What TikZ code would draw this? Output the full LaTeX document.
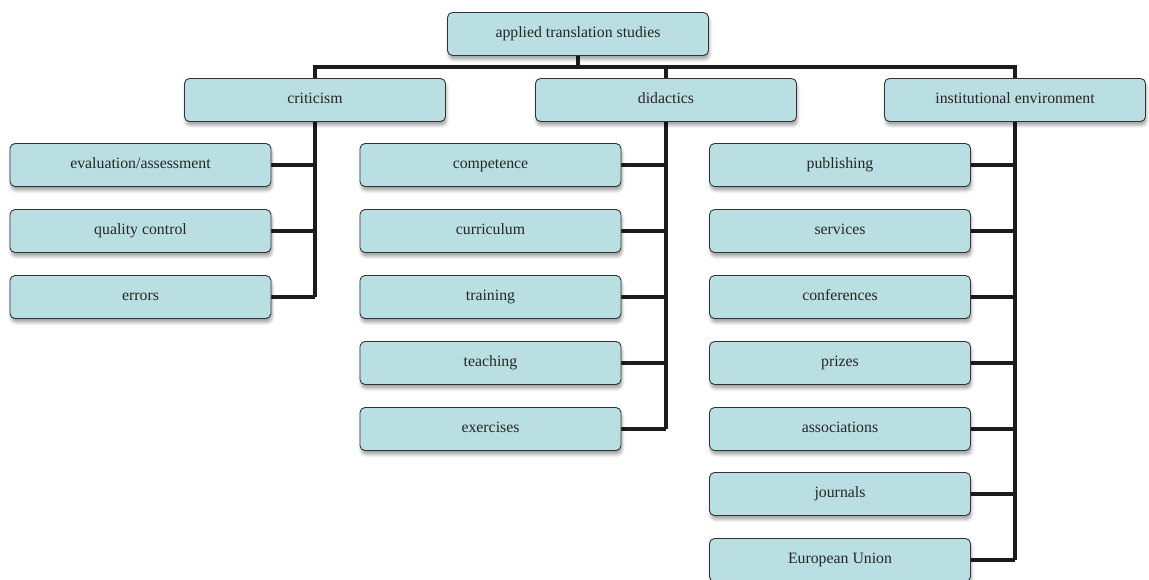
\documentclass[tikz,border=0pt]{standalone}
\usepackage{fontspec}
\setmainfont{Liberation Serif}
\usetikzlibrary{shadows.blur,backgrounds}
\definecolor{boxfill}{HTML}{B9DFE2}
\definecolor{boxline}{HTML}{333333}
\definecolor{linkcol}{HTML}{1C1C1C}
\begin{document}
\begin{tikzpicture}[x=1pt,y=-1pt,
  box/.style={draw=boxline, line width=0.9pt, fill=boxfill, rounded corners=5pt,
    minimum width=261pt, minimum height=43pt, inner sep=0pt, text=black!85,
    text height=11pt, text depth=3.5pt,
    font=\fontsize{15.8}{18}\selectfont,
    blur shadow={shadow xshift=1pt, shadow yshift=-4pt, shadow opacity=35, shadow blur radius=3pt}},
  link/.style={line width=4pt, draw=linkcol, line join=miter}]
\useasboundingbox (0,0) rectangle (1149,580);
\node[box] (top) at (578,34) {applied translation studies};
\node[box] (crit) at (315,100) {criticism};
\node[box] (did) at (666,100) {didactics};
\node[box] (inst) at (1015,100) {institutional environment};
% criticism
\node[box] (c1) at (140.5,165) {evaluation/assessment};
\node[box] (c2) at (140.5,231) {quality control};
\node[box] (c3) at (140.5,297) {errors};
% didactics
\node[box] (d1) at (490.5,165) {competence};
\node[box] (d2) at (490.5,231) {curriculum};
\node[box] (d3) at (490.5,297) {training};
\node[box] (d4) at (490.5,363) {teaching};
\node[box] (d5) at (490.5,429) {exercises};
% institutional
\node[box] (i1) at (840,165) {publishing};
\node[box] (i2) at (840,231) {services};
\node[box] (i3) at (840,297) {conferences};
\node[box] (i4) at (840,363) {prizes};
\node[box] (i5) at (840,429) {associations};
\node[box] (i6) at (840,494) {journals};
\node[box] (i7) at (840,560) {European Union};
\coordinate (bus) at (578,67);
\begin{scope}[on background layer]
\draw[link] (top) -- (top |- bus);
\draw[link] (c3.east -| crit) -- (crit |- bus) -- (inst |- bus) -- (i7.east -| inst);
\draw[link] (did |- bus) -- (d5.east -| did);
\foreach \n in {c1,c2,c3} \draw[link] (\n.east) -- (\n.east -| crit);
\foreach \n in {d1,d2,d3,d4,d5} \draw[link] (\n.east) -- (\n.east -| did);
\foreach \n in {i1,i2,i3,i4,i5,i6,i7} \draw[link] (\n.east) -- (\n.east -| inst);
\end{scope}
\end{tikzpicture}
\end{document}
